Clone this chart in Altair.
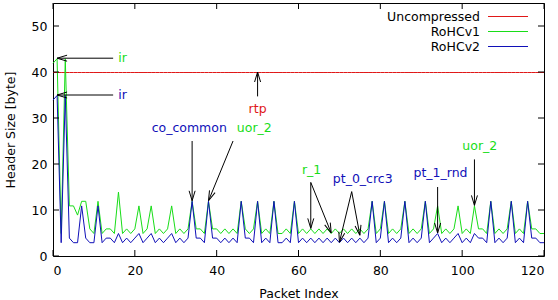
import math
import altair as alt
import pandas as pd

# ---- data -------------------------------------------------------------
packet = list(range(121))

uncompressed = [40] * len(packet)

rohc_v1 = [
    42, 43, 5, 43, 11, 11, 9, 12, 12, 6,
    5, 12, 5, 6, 6, 5, 14, 5, 6, 5,
    6, 11, 5, 6, 11, 5, 6, 5, 6, 11,
    5, 6, 5, 6, 12, 6, 6, 5, 12, 6,
    6, 5, 6, 5, 6, 5, 12, 6, 5, 6,
    12, 5, 6, 5, 12, 5, 5, 6, 5, 12,
    5, 6, 5, 6, 5, 6, 5, 6, 5, 6,
    5, 6, 5, 6, 5, 6, 5, 6, 12, 5,
    6, 12, 5, 6, 5, 6, 12, 5, 6, 5,
    6, 12, 5, 6, 11, 5, 6, 5, 6, 11,
    5, 6, 5, 11, 6, 6, 5, 12, 5, 6,
    5, 6, 12, 5, 6, 5, 12, 6, 6, 5,
    5,
]

rohc_v2 = [
    34, 35, 3, 35, 4, 3, 3, 11, 4, 3,
    3, 11, 3, 4, 4, 3, 5, 3, 4, 3,
    4, 5, 3, 4, 5, 3, 4, 3, 4, 5,
    3, 4, 3, 4, 12, 4, 4, 3, 12, 4,
    4, 3, 4, 3, 4, 3, 12, 4, 4, 3,
    12, 3, 4, 3, 12, 3, 3, 4, 3, 12,
    3, 4, 3, 4, 3, 4, 3, 4, 3, 4,
    3, 4, 3, 4, 3, 4, 3, 4, 12, 3,
    4, 12, 3, 4, 3, 4, 12, 3, 4, 3,
    4, 12, 3, 4, 5, 3, 4, 3, 4, 5,
    3, 4, 3, 5, 4, 4, 3, 12, 3, 4,
    3, 4, 12, 3, 4, 3, 12, 4, 4, 3,
    3,
]

series_names = ["Uncompressed", "RoHCv1", "RoHCv2"]
series_colors = ["#e01818", "#18dd18", "#1010b8"]

# packet-type labels
ann_text = ["ir", "ir", "rtp", "co_common", "uor_2", "r_1", "pt_0_crc3", "pt_1_rnd", "uor_2"]
ann_x = [17, 17, 50, 33.3, 49.2, 63.2, 75.7, 94.7, 104.3]
ann_y = [43, 35, 32, 27.8, 27.8, 18.7, 16.8, 18, 23.9]
ann_series = [1, 2, 0, 2, 1, 1, 2, 2, 1]

# arrows: tail (x1, y1) -> head (x2, y2)
arrow_x1 = [14.7, 14.7, 50, 34, 44, 63, 63, 73, 73, 94, 103]
arrow_y1 = [43, 35, 34.7, 25, 25, 16, 16, 14, 14, 15, 21]
arrow_x2 = [1, 1, 50, 34, 38, 63, 68, 70, 75, 94, 103]
arrow_y2 = [43, 35, 40, 12, 12, 6, 5, 3, 4.5, 5, 11]

x_ticks = [0, 20, 40, 60, 80, 100, 120]
y_ticks = [0, 10, 20, 30, 40, 50]
x_domain = [0, 120]
y_domain = [0, 55]

# ---- layout -----------------------------------------------------------
W, H = 491, 253
FONT = "DejaVu Sans"
FS = 12.5
TICK = 6

xs = alt.Scale(domain=x_domain, nice=False, zero=False)
ys = alt.Scale(domain=y_domain, nice=False, zero=False)

x_axis = alt.Axis(
    title="Packet Index", values=x_ticks, ticks=False, domain=False, grid=False,
    labelPadding=8, labelFont=FONT, labelFontSize=FS, labelColor="black",
    titleFont=FONT, titleFontSize=FS, titleFontWeight="normal", titleColor="black",
    titleX=W / 2, titleY=37, titleBaseline="middle", titleAlign="center",
)
y_axis = alt.Axis(
    title="Header Size [byte]", values=y_ticks, ticks=False, domain=False, grid=False,
    labelPadding=6, labelFont=FONT, labelFontSize=FS, labelColor="black",
    titleFont=FONT, titleFontSize=FS, titleFontWeight="normal", titleColor="black",
    titleX=-43, titleY=H / 2, titleBaseline="middle", titleAlign="center", titleAngle=270,
)


def X(field):
    return alt.X(field, type="quantitative", scale=xs, axis=x_axis)


def Y(field):
    return alt.Y(field, type="quantitative", scale=ys, axis=y_axis)


layers = []

# series lines (half-pixel offset keeps the flat segments crisp)
for name, color, values in zip(series_names, series_colors, [uncompressed, rohc_v1, rohc_v2]):
    df = pd.DataFrame({"packet": packet, "size": values, "series": name})
    layers.append(
        alt.Chart(df).mark_line(color=color, strokeWidth=1, yOffset=0.5)
        .encode(x=X("packet"), y=Y("size"))
    )

# arrows
sx = W / (x_domain[1] - x_domain[0])
sy = H / (y_domain[1] - y_domain[0])
angles = []
for a, b, c, d in zip(arrow_x1, arrow_y1, arrow_x2, arrow_y2):
    dx = (c - a) * sx
    dy = -(d - b) * sy
    angles.append(math.degrees(math.atan2(dx, -dy)) % 360)
arrows = pd.DataFrame({"x1": arrow_x1, "y1": arrow_y1, "x2": arrow_x2, "y2": arrow_y2, "angle": angles})

layers.append(
    alt.Chart(arrows).mark_rule(color="black", strokeWidth=1).encode(
        x=X("x1"), y=Y("y1"), x2="x2", y2="y2"
    )
)
layers.append(
    alt.Chart(arrows).mark_point(
        shape="M0,0L-0.3,1M0,0L0.3,1", filled=False, stroke="black",
        strokeWidth=1, size=400, opacity=1,
    ).encode(x=X("x2"), y=Y("y2"), angle=alt.Angle("angle:Q", scale=None))
)

# labels
labels = pd.DataFrame({
    "x": ann_x, "y": ann_y, "text": ann_text,
    "color": [series_colors[i] for i in ann_series],
})
layers.append(
    alt.Chart(labels).mark_text(font=FONT, fontSize=FS, align="center", baseline="middle").encode(
        x=X("x"), y=Y("y"), text="text:N", color=alt.Color("color:N", scale=None)
    )
)

# inward tick marks on all four sides
xt = pd.DataFrame({"v": x_ticks})
yt = pd.DataFrame({"v": y_ticks})
layers.append(alt.Chart(xt).mark_rule(color="black").encode(x=X("v"), y=alt.value(H), y2=alt.value(H - TICK)))
layers.append(alt.Chart(xt).mark_rule(color="black").encode(x=X("v"), y=alt.value(0), y2=alt.value(TICK)))
layers.append(alt.Chart(yt).mark_rule(color="black").encode(y=Y("v"), x=alt.value(0), x2=alt.value(TICK)))
layers.append(alt.Chart(yt).mark_rule(color="black").encode(y=Y("v"), x=alt.value(W), x2=alt.value(W - TICK)))

# key in the upper right corner
one = pd.DataFrame({"k": [0]})
key_rows = [13.5, 28.5, 43.5]
for name, color, ky in zip(series_names, series_colors, key_rows):
    layers.append(
        alt.Chart(one).mark_text(font=FONT, fontSize=FS, align="right", baseline="middle", color="black", text=name)
        .encode(x=alt.value(427), y=alt.value(ky))
    )
    layers.append(
        alt.Chart(one).mark_rule(color=color, strokeWidth=1)
        .encode(x=alt.value(435), x2=alt.value(475), y=alt.value(ky))
    )

chart = (
    alt.layer(*layers)
    .properties(
        width=W, height=H,
        padding={"left": 53, "top": 3, "right": 14, "bottom": 44},
        autosize=alt.AutoSizeParams(type="none"),
        background="white",
    )
    .configure_view(stroke="black", strokeWidth=1)
)

chart.save("out.html", embed_options={"renderer": "svg", "actions": False})
